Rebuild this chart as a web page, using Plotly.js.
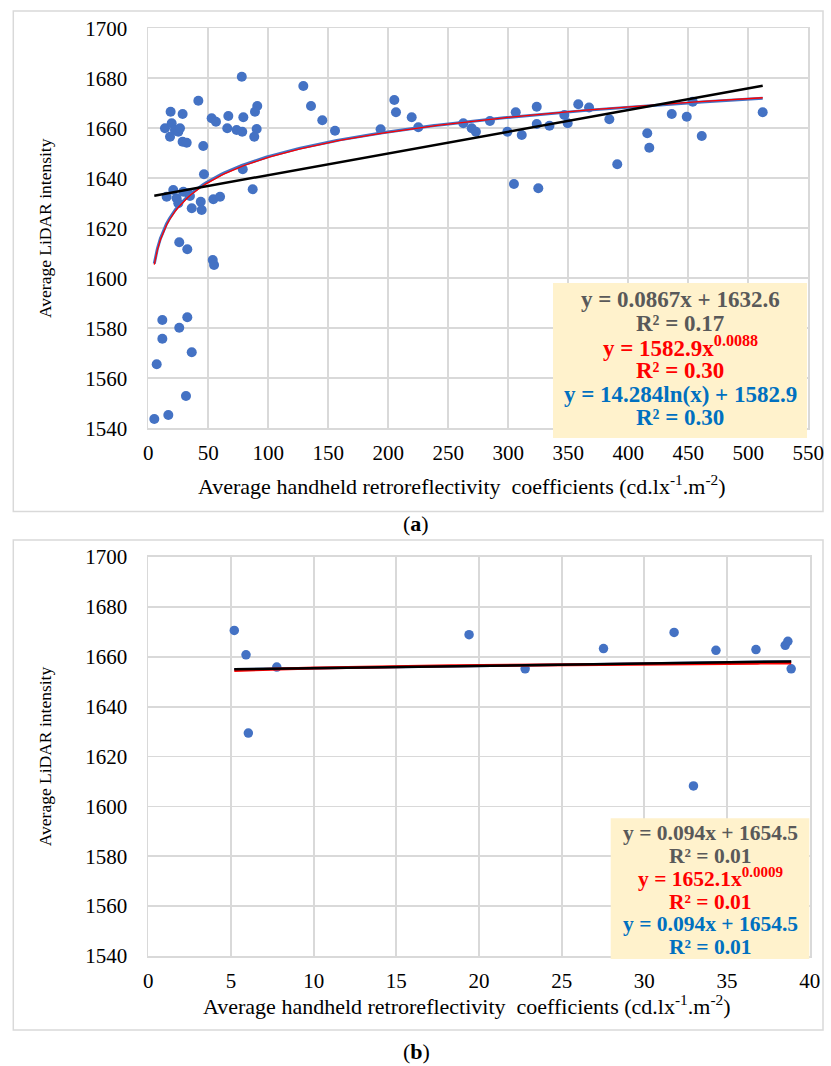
<!DOCTYPE html>
<html>
<head>
<meta charset="utf-8">
<script src="https://cdn.plot.ly/plotly-3.0.1.min.js"></script>
<style>
  html, body { margin: 0; padding: 0; background: #ffffff; }
  #chart { width: 831px; height: 1066px; }
</style>
</head>
<body>
<div id="chart"></div>
<script>
// ---- Panel (a): all sites ----
const retroA = [77.9, 41.7, 18.6, 28.6, 90.8, 88.9, 52.8, 56.4, 66.7, 79.2,
  13.9, 19.5, 22.2, 25.0, 18.1, 26.4, 65.8, 73.6, 78.3, 90.3,
  88.3, 28.6, 32.0, 45.8, 78.7, 46.4, 87.0, 20.8, 15.3, 23.6,
  29.2, 33.3, 34.7, 25.0, 36.2, 43.7, 44.5, 54.2, 59.8, 25.8,
  32.5, 53.7, 54.8, 11.7, 32.5, 25.8, 11.7, 36.2, 7.0, 31.4,
  16.7, 5.0, 129.2, 135.6, 145.0, 155.6, 193.6, 205.0, 206.4, 219.5,
  225.0, 262.5, 269.5, 273.0, 284.7, 299.2, 306.2, 311.2, 323.7, 323.7,
  334.3, 304.7, 325.0, 346.7, 349.5, 358.3, 367.3, 384.2, 390.8, 415.8,
  417.5, 436.2, 448.7, 453.7, 461.2, 512.0];
const lidarA = [1680.6, 1671.0, 1666.6, 1665.7, 1668.9, 1666.6, 1664.0, 1662.6, 1664.9, 1664.4,
  1660.0, 1662.0, 1659.3, 1658.6, 1656.6, 1660.0, 1660.0, 1659.3, 1658.6, 1659.7,
  1656.6, 1654.6, 1654.2, 1652.9, 1643.6, 1641.6, 1635.6, 1635.3, 1632.6, 1632.0,
  1634.6, 1634.0, 1632.9, 1630.0, 1628.0, 1630.6, 1627.3, 1631.6, 1632.6, 1614.4,
  1611.6, 1607.3, 1605.3, 1583.3, 1584.4, 1580.2, 1575.8, 1570.4, 1565.6, 1552.9,
  1545.3, 1543.7, 1676.9, 1668.9, 1663.2, 1659.0, 1659.6, 1671.3, 1666.4, 1664.4,
  1660.4, 1662.0, 1660.0, 1658.6, 1662.9, 1658.6, 1666.4, 1657.3, 1668.6, 1661.7,
  1661.0, 1637.7, 1636.0, 1665.3, 1662.0, 1669.6, 1668.3, 1663.6, 1645.6, 1658.0,
  1652.2, 1665.7, 1664.6, 1670.6, 1656.9, 1666.4];
// fitted models: [slope, intercept], [coef, exponent], [coef, intercept]
const linFitA = [0.0867, 1632.6];
const powFitA = [1582.9, 0.0088];
const logFitA = [14.284, 1582.9];
const eqTextA = ["y = 0.0867x + 1632.6", "R² = 0.17",
  "y = 1582.9x<sup>0.0088</sup>", "R² = 0.30",
  "y = 14.284ln(x) + 1582.9", "R² = 0.30"];

// ---- Panel (b): low-retroreflectivity sites ----
const retroB = [5.2, 5.91, 7.77, 6.05, 19.4, 22.79, 27.53, 31.8, 34.33, 36.75, 38.52, 38.68, 38.88, 32.97];
const lidarB = [1670.6, 1660.8, 1655.9, 1629.4, 1668.9, 1655.2, 1663.3, 1669.8, 1662.6, 1662.9, 1664.6, 1666.2, 1655.2, 1608.2];
const linFitB = [0.094, 1654.5];
const powFitB = [1652.1, 0.0009];
const eqTextB = ["y = 0.094x + 1654.5", "R² = 0.01",
  "y = 1652.1x<sup>0.0009</sup>", "R² = 0.01",
  "y = 0.094x + 1654.5", "R² = 0.01"];

const eqColors = ["#595959", "#595959", "#FF0000", "#FF0000", "#0070C0", "#0070C0"];
const xTitle = "Average handheld retroreflectivity  coefficients (cd.lx<sup>-1</sup>.m<sup>-2</sup>)";
const yTitle = "Average LiDAR intensity";

// ---- helpers ----
const W = 831, H = 1066;
const FONT = "Liberation Serif";
const px = p => p / W;
const py = p => 1 - p / H;

function sampleCurve(xs, fn) {
  const lo = Math.min(...xs), hi = Math.max(...xs);
  const n = 200, X = [], Y = [];
  for (let i = 0; i <= n; i++) {
    const x = lo + (hi - lo) * i / n;
    X.push(x); Y.push(fn(x));
  }
  return { x: X, y: Y };
}

const linA = sampleCurve(retroA, x => linFitA[0] * x + linFitA[1]);
const powA = sampleCurve(retroA, x => powFitA[0] * Math.pow(x, powFitA[1]));
const logA = sampleCurve(retroA, x => logFitA[0] * Math.log(x) + logFitA[1]);
const linB = sampleCurve(retroB, x => linFitB[0] * x + linFitB[1]);
const powB = sampleCurve(retroB, x => powFitB[0] * Math.pow(x, powFitB[1]));

const dotColor = "#4472C4";
const traces = [
  { x: retroA, y: lidarA, type: "scatter", mode: "markers", xaxis: "x", yaxis: "y",
    marker: { color: dotColor, size: 10 }, hoverinfo: "x+y" },
  { x: logA.x, y: logA.y, mode: "lines", xaxis: "x", yaxis: "y", line: { color: "#4472C4", width: 3 } },
  { x: powA.x, y: powA.y, mode: "lines", xaxis: "x", yaxis: "y", line: { color: "#FF0000", width: 1.3 } },
  { x: linA.x, y: linA.y, mode: "lines", xaxis: "x", yaxis: "y", line: { color: "#000000", width: 2.5 } },

  { x: retroB, y: lidarB, type: "scatter", mode: "markers", xaxis: "x2", yaxis: "y2",
    marker: { color: dotColor, size: 9.5 }, hoverinfo: "x+y" },
  { x: linB.x, y: linB.y, mode: "lines", xaxis: "x2", yaxis: "y2", line: { color: "#4472C4", width: 2.5 } },
  { x: powB.x, y: powB.y, mode: "lines", xaxis: "x2", yaxis: "y2", line: { color: "#FF0000", width: 3 } },
  { x: linB.x, y: linB.y, mode: "lines", xaxis: "x2", yaxis: "y2", line: { color: "#000000", width: 2.5 } }
];

const gridColor = "#d9d9d9";
function xAxis(domain, range, dtick, anchor) {
  return {
    domain: domain, range: range, dtick: dtick, tick0: 0, anchor: anchor,
    showgrid: true, gridcolor: gridColor, gridwidth: 1.8,
    showline: true, linecolor: gridColor, linewidth: 1.8, mirror: true,
    zeroline: false, ticks: "", ticklabelstandoff: 5,
    tickfont: { family: FONT, size: 21, color: "#000" },
    fixedrange: true
  };
}
function yAxis(domain, anchor) {
  return {
    domain: domain, range: [1540, 1700], dtick: 20, tick0: 1540, anchor: anchor,
    showgrid: true, gridcolor: gridColor, gridwidth: 1.8,
    showline: true, linecolor: gridColor, linewidth: 1.8, mirror: true,
    zeroline: false, ticks: "", ticklabelstandoff: 15,
    tickfont: { family: FONT, size: 21, color: "#000" },
    title: { text: yTitle, font: { family: FONT, size: 17.5, color: "#000" }, standoff: 29 },
    fixedrange: true
  };
}

// plot areas in page pixels
const A = { l: 148.3, r: 808.3, t: 28.3, b: 428.3 };
const B = { l: 148.3, r: 809.7, t: 557.1, b: 956.0 };

const shapes = [
  // chart frames
  { type: "rect", xref: "paper", yref: "paper", x0: px(13.3), x1: px(823), y0: py(11), y1: py(511.5),
    line: { color: gridColor, width: 1.5 }, layer: "below" },
  { type: "rect", xref: "paper", yref: "paper", x0: px(13.3), x1: px(823), y0: py(540), y1: py(1030),
    line: { color: gridColor, width: 1.5 }, layer: "below" },
  // equation boxes
  { type: "rect", xref: "paper", yref: "paper", x0: px(553), x1: px(807), y0: py(283), y1: py(438),
    fillcolor: "#FFF2CC", line: { width: 0 }, layer: "above" },
  { type: "rect", xref: "paper", yref: "paper", x0: px(610.7), x1: px(809.3), y0: py(818.3), y1: py(959),
    fillcolor: "#FFF2CC", line: { width: 0 }, layer: "above" }
];

const annotations = [];
const linesA = [300, 323.5, 347, 370.5, 394, 417.5];
eqTextA.forEach((t, i) => annotations.push({
  xref: "paper", yref: "paper", x: px(680), y: py(linesA[i]), xanchor: "center", yanchor: "middle",
  text: "<b>" + t + "</b>", showarrow: false, font: { family: FONT, size: 23, color: eqColors[i] }
}));
const linesB = [833, 855.7, 877, 902, 923.8, 946.5];
eqTextB.forEach((t, i) => annotations.push({
  xref: "paper", yref: "paper", x: px(710), y: py(linesB[i]), xanchor: "center", yanchor: "middle",
  text: "<b>" + t + "</b>", showarrow: false, font: { family: FONT, size: 21.5, color: eqColors[i] }
}));
// x-axis titles
annotations.push({ xref: "paper", yref: "paper", x: px(462), y: py(485), xanchor: "center", yanchor: "middle",
  text: xTitle, showarrow: false, font: { family: FONT, size: 22, color: "#000" } });
annotations.push({ xref: "paper", yref: "paper", x: px(467), y: py(1005), xanchor: "center", yanchor: "middle",
  text: xTitle, showarrow: false, font: { family: FONT, size: 22, color: "#000" } });
// panel tags
annotations.push({ xref: "paper", yref: "paper", x: px(416), y: py(523), xanchor: "center", yanchor: "middle",
  text: "(<b>a</b>)", showarrow: false, font: { family: FONT, size: 22, color: "#000" } });
annotations.push({ xref: "paper", yref: "paper", x: px(416), y: py(1051), xanchor: "center", yanchor: "middle",
  text: "(<b>b</b>)", showarrow: false, font: { family: FONT, size: 22, color: "#000" } });

const layout = {
  width: W, height: H,
  margin: { l: 0, r: 0, t: 0, b: 0 },
  paper_bgcolor: "#ffffff", plot_bgcolor: "#ffffff",
  showlegend: false,
  xaxis: xAxis([px(A.l), px(A.r)], [0, 550], 50, "y"),
  yaxis: yAxis([py(A.b), py(A.t)], "x"),
  xaxis2: xAxis([px(B.l), px(B.r)], [0, 40], 5, "y2"),
  yaxis2: yAxis([py(B.b), py(B.t)], "x2"),
  shapes: shapes,
  annotations: annotations
};

Plotly.newPlot("chart", traces, layout, { displayModeBar: false, staticPlot: true });
</script>
</body>
</html>
